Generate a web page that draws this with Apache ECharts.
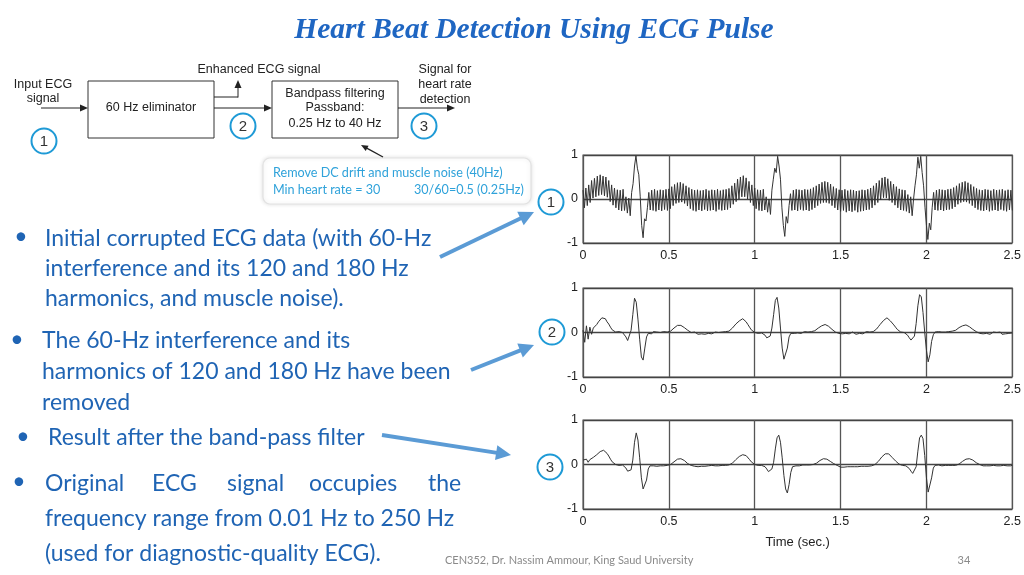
<!DOCTYPE html>
<html><head><meta charset="utf-8">
<script src="https://cdn.jsdelivr.net/npm/echarts@6/dist/echarts.min.js"></script>
<style>html,body{margin:0;padding:0;background:#fff}#c{width:1024px;height:575px}</style>
</head><body><div id="c"></div>
<script>
// ---------- data ----------
const timeMin = 0, timeMax = 2.5, timeInterval = 0.5;
const ampMin = -1, ampMax = 1, ampInterval = 1;

// Plot 1: corrupted ECG, samples every 1/120 s
const ecg1Step = 1 / 120;
const ecg1 = [
 0.20,-0.20,0.25,-0.15,0.32,-0.08,0.42,0.02,0.47,0.05,0.52,0.08,
 0.55,0.10,0.52,0.07,0.50,0.04,0.42,-0.06,0.32,-0.14,0.25,-0.20,
 0.21,-0.25,0.20,-0.27,0.22,-0.26,0.05,-0.32,0.02,-0.38,0.15,0.35,
 0.75,0.98,0.70,0.55,0.05,-0.60,-0.88,-0.45,-0.50,-0.20,0.15,-0.25,
 0.20,-0.26,0.22,-0.28,0.19,-0.25,0.21,-0.27,0.20,-0.24,0.22,-0.26,
 0.23,-0.22,0.28,-0.15,0.33,-0.10,0.37,-0.08,0.38,-0.07,0.35,-0.10,
 0.30,-0.16,0.26,-0.22,0.22,-0.26,0.20,-0.28,0.21,-0.25,0.19,-0.27,
 0.20,-0.24,0.22,-0.27,0.19,-0.26,0.21,-0.25,0.20,-0.28,0.22,-0.24,
 0.19,-0.26,0.21,-0.25,0.22,-0.24,0.24,-0.20,0.30,-0.12,0.36,-0.06,
 0.45,0.00,0.50,0.05,0.53,0.05,0.48,0.00,0.40,-0.08,0.32,-0.15,
 0.25,-0.22,0.21,-0.26,0.20,-0.27,0.22,-0.25,0.05,-0.30,0.00,-0.35,
 0.20,0.45,0.70,0.60,0.97,0.75,0.45,-0.20,-0.60,-0.85,-0.40,-0.55,
 -0.15,0.12,-0.26,0.20,-0.25,0.22,-0.27,0.21,-0.24,0.20,-0.26,0.22,
 -0.25,0.21,-0.27,0.23,-0.24,0.26,-0.20,0.30,-0.15,0.34,-0.10,0.38,
 -0.08,0.40,-0.08,0.38,-0.10,0.34,-0.15,0.28,-0.20,0.24,-0.25,0.21,
 -0.28,0.20,-0.26,0.22,-0.30,0.19,-0.27,0.21,-0.29,0.20,-0.26,0.18,
 -0.30,0.19,-0.28,0.21,-0.27,0.20,-0.25,0.22,-0.24,0.25,-0.20,0.30,
 -0.14,0.36,-0.08,0.42,-0.02,0.48,0.03,0.50,0.02,0.46,-0.03,0.40,
 -0.08,0.34,-0.14,0.28,-0.20,0.23,-0.25,0.21,-0.26,0.20,-0.28,0.10,
 -0.32,0.05,-0.38,0.00,0.30,0.55,0.95,0.70,0.97,0.60,0.30,-0.20,
 -0.60,-0.92,-0.55,-0.70,-0.20,0.15,-0.25,0.20,-0.26,0.22,-0.25,0.21,
 -0.27,0.20,-0.25,0.22,-0.24,0.23,-0.22,0.26,-0.18,0.30,-0.12,0.35,
 -0.08,0.38,-0.06,0.40,-0.07,0.37,-0.10,0.33,-0.15,0.28,-0.20,0.24,
 -0.24,0.21,-0.26,0.20,-0.27,0.22,-0.25,0.21,-0.28,0.19,-0.26,0.22,
 -0.25,0.20,-0.27,0.21,-0.24,0.22,-0.26,0.19,-0.28,0.21,-0.25,0.20,
 -0.26
];

// Plots 2 and 3: samples every 0.01 s
const ecg23Step = 0.01;
const ecg2 = [
 0.05,-0.22,0.15,-0.15,0.12,-0.04,0.10,0.13,0.18,0.24,
 0.27,0.33,0.29,0.31,0.24,0.19,0.12,0.06,0.02,0.01,
 -0.01,0.02,-0.02,0.00,-0.04,-0.10,-0.18,-0.15,0.05,0.40,
 0.77,0.68,0.30,-0.15,-0.55,-0.62,-0.35,-0.10,-0.02,0.01,
 -0.03,0.02,-0.02,0.01,-0.03,0.00,-0.02,0.02,-0.01,0.01,
 -0.02,0.03,0.06,0.10,0.12,0.16,0.14,0.16,0.13,0.11,
 0.08,0.05,0.02,0.00,-0.03,0.01,-0.02,-0.04,0.00,-0.03,
 -0.01,-0.04,0.00,-0.02,0.01,-0.03,-0.01,0.01,-0.02,0.00,
 -0.03,0.01,-0.01,0.02,0.00,0.03,0.06,0.10,0.14,0.19,
 0.22,0.26,0.29,0.31,0.28,0.24,0.18,0.12,0.06,0.02,
 0.00,0.02,-0.02,0.01,-0.01,-0.03,-0.06,-0.12,-0.14,-0.08,
 0.10,0.40,0.72,0.79,0.55,0.10,-0.35,-0.60,-0.63,-0.35,
 -0.10,-0.02,0.01,-0.02,0.02,-0.01,0.01,-0.02,0.00,0.02,
 -0.01,0.01,-0.02,0.02,0.01,0.04,0.07,0.10,0.13,0.15,
 0.16,0.18,0.15,0.14,0.10,0.07,0.04,0.01,0.00,-0.02,
 0.01,-0.03,0.00,-0.02,0.01,-0.03,-0.01,0.01,-0.02,-0.04,
 0.00,-0.02,0.01,-0.03,0.00,0.02,-0.01,0.01,0.03,0.02,
 0.05,0.08,0.13,0.18,0.22,0.27,0.31,0.33,0.30,0.26,
 0.22,0.17,0.12,0.07,0.03,0.01,-0.01,0.00,-0.03,-0.06,
 -0.12,-0.17,-0.19,-0.08,0.20,0.60,0.85,0.80,0.45,0.00,
 -0.40,-0.66,-0.50,-0.20,-0.05,0.01,-0.02,0.02,-0.01,0.01,
 -0.02,0.01,-0.01,0.02,0.00,0.03,0.02,0.05,0.08,0.11,
 0.13,0.15,0.14,0.17,0.16,0.13,0.11,0.07,0.04,0.02,
 0.00,-0.02,0.01,-0.03,0.00,-0.02,0.01,-0.04,-0.01,0.01,
 -0.03,0.00,-0.02,0.01,-0.04,-0.01,-0.03,0.00,-0.02,0.01,
 -0.01
];
const ecg3 = [
 0.10,0.06,0.12,0.05,0.11,0.13,0.16,0.19,0.22,0.26,
 0.29,0.31,0.32,0.30,0.25,0.19,0.12,0.06,0.02,0.00,
 -0.01,-0.02,-0.02,-0.01,-0.03,-0.08,-0.15,-0.18,-0.12,0.10,
 0.50,0.71,0.55,0.15,-0.30,-0.55,-0.58,-0.35,-0.10,-0.03,
 -0.02,-0.03,-0.02,-0.04,-0.02,-0.03,-0.02,-0.03,-0.01,-0.02,
 -0.01,0.00,0.02,0.06,0.10,0.12,0.13,0.13,0.12,0.09,
 0.05,0.02,0.00,-0.02,-0.03,-0.04,-0.03,-0.05,-0.03,-0.04,
 -0.02,-0.04,-0.05,-0.03,-0.04,-0.02,-0.04,-0.03,-0.05,-0.03,
 -0.04,-0.02,-0.03,-0.02,-0.03,-0.01,0.00,0.03,0.07,0.11,
 0.15,0.18,0.21,0.22,0.22,0.20,0.16,0.11,0.06,0.02,
 0.00,-0.01,-0.02,-0.01,-0.02,-0.03,-0.05,-0.10,-0.16,-0.17,
 -0.10,0.05,0.35,0.60,0.66,0.50,0.15,-0.25,-0.55,-0.64,
 -0.45,-0.18,-0.05,-0.02,-0.03,-0.02,-0.03,-0.02,-0.01,-0.02,
 -0.01,-0.02,-0.01,-0.01,0.00,0.01,0.03,0.06,0.09,0.11,
 0.13,0.13,0.12,0.10,0.07,0.04,0.02,0.00,-0.02,-0.04,
 -0.06,-0.07,-0.06,-0.07,-0.05,-0.06,-0.05,-0.06,-0.05,-0.04,
 -0.05,-0.03,-0.04,-0.03,-0.04,-0.03,-0.04,-0.02,-0.03,-0.01,
 0.00,0.03,0.07,0.12,0.17,0.21,0.24,0.26,0.24,0.20,
 0.16,0.12,0.08,0.04,0.01,-0.01,-0.02,-0.02,-0.03,-0.05,
 -0.09,-0.15,-0.20,-0.19,-0.05,0.30,0.60,0.66,0.58,0.20,
 -0.30,-0.62,-0.58,-0.30,-0.08,-0.02,-0.02,-0.01,-0.02,-0.03,
 -0.01,-0.02,-0.03,-0.02,-0.01,-0.02,-0.01,-0.02,0.00,0.01,
 0.04,0.07,0.10,0.12,0.13,0.13,0.12,0.10,0.07,0.04,
 0.02,0.00,-0.02,-0.03,-0.04,-0.03,-0.05,-0.03,-0.04,-0.02,
 -0.04,-0.03,-0.05,-0.03,-0.04,-0.02,-0.04,-0.03,-0.02,-0.03,
 -0.02
];

// Texts
const titleText = 'Heart Beat Detection Using ECG Pulse';
const bullet1 = ['Initial corrupted ECG data (with 60-Hz', 'interference and its 120 and 180 Hz', 'harmonics, and muscle noise).'];
const bullet2 = ['The 60-Hz interference and its', 'harmonics of 120 and 180 Hz have been', 'removed'];
const bullet3 = ['Result after the band-pass filter'];
const bullet4Line1 = ['Original', 'ECG', 'signal', 'occupies', 'the'];
const bullet4Rest = ['frequency range from 0.01 Hz to 250 Hz', '(used for diagnostic-quality ECG).'];
const footerText = 'CEN352, Dr. Nassim Ammour, King Saud University';
const pageNumber = '34';
const xAxisName = 'Time (sec.)';

// ---------- build ----------
const toPairs = (arr, step) => arr.map((v, i) => [+(i * step).toFixed(4), v]);

const BLUE = '#1F64B4';
const CYAN = '#2FA2DA';
const RING = '#1E9AD6';
const DIAG = '#222';
const bodyFont = (s) => s + 'px Lato, "Open Sans", sans-serif';
const diagFont = '12.5px "Liberation Sans", Arial, sans-serif';

const g = [];
function txt(x, y, text, font, fill, align, extra) {
  const o = { type: 'text', x: x, y: y, z: 10,
    style: Object.assign({ text: text, font: font, fill: fill,
      textAlign: align || 'left', textVerticalAlign: 'middle', align: align || 'left', verticalAlign: 'middle' }, extra || {}) };
  g.push(o); return o;
}
function seg(x1, y1, x2, y2, color, lw) {
  g.push({ type: 'line', z: 10, shape: { x1, y1, x2, y2 }, style: { stroke: color, lineWidth: lw } });
}
function arrow(x1, y1, x2, y2, color, lw, hl, hw) {
  const a = Math.atan2(y2 - y1, x2 - x1);
  const bx = x2 - hl * Math.cos(a), by = y2 - hl * Math.sin(a);
  const px = -Math.sin(a) * hw / 2, py = Math.cos(a) * hw / 2;
  seg(x1, y1, bx + Math.cos(a), by + Math.sin(a), color, lw);
  g.push({ type: 'polygon', z: 10, shape: { points: [[x2, y2], [bx + px, by + py], [bx - px, by - py]] }, style: { fill: color } });
}
function ring(cx, cy, label) {
  g.push({ type: 'circle', z: 10, shape: { cx, cy, r: 12.5 }, style: { fill: '#fff', stroke: RING, lineWidth: 2 } });
  txt(cx, cy + 1, label, '15px "Liberation Sans", Arial, sans-serif', '#333', 'center');
}
function box(x, y, w, h) {
  g.push({ type: 'rect', z: 10, shape: { x, y, width: w, height: h }, style: { fill: '#fff', stroke: '#333', lineWidth: 1 } });
}

// title
txt(534, 30, titleText, 'italic bold 29.5px "Liberation Serif", serif', '#1F66C2', 'center');

// block diagram
txt(43, 85, 'Input ECG', diagFont, DIAG, 'center');
txt(43, 99, 'signal', diagFont, DIAG, 'center');
arrow(41, 108, 88, 108, '#222', 1, 8, 7);
box(88, 81, 126, 57);
txt(151, 108, '60 Hz eliminator', diagFont, DIAG, 'center');
seg(214, 97, 238, 97, '#222', 1);
arrow(238, 97.5, 238, 80, '#222', 1, 8, 7);
txt(259, 70, 'Enhanced ECG signal', diagFont, DIAG, 'center');
arrow(214, 108, 272, 108, '#222', 1, 8, 7);
box(272, 81, 126, 57);
txt(335, 94, 'Bandpass filtering', diagFont, DIAG, 'center');
txt(335, 108, 'Passband:', diagFont, DIAG, 'center');
txt(335, 124, '0.25 Hz to 40 Hz', diagFont, DIAG, 'center');
arrow(398, 108, 455, 108, '#222', 1, 8, 7);
txt(445, 70, 'Signal for', diagFont, DIAG, 'center');
txt(445, 85, 'heart rate', diagFont, DIAG, 'center');
txt(445, 100, 'detection', diagFont, DIAG, 'center');
ring(44, 141, '1');
ring(243, 126, '2');
ring(424, 126, '3');
arrow(383, 157, 361, 145, '#222', 1.3, 7, 6);
g.push({ type: 'rect', z: 9, shape: { x: 263, y: 158, width: 268, height: 46, r: 7 }, style: { fill: '#fff', stroke: '#e2e2e2', lineWidth: 1.2, shadowBlur: 4, shadowColor: 'rgba(0,0,0,0.12)' } });
txt(273, 173, 'Remove DC drift and muscle noise (40Hz)', bodyFont(12.6), CYAN, 'left');
txt(273, 190, 'Min heart rate = 30', bodyFont(12.6), CYAN, 'left');
txt(414, 190, '30/60=0.5 (0.25Hz)', bodyFont(12.6), CYAN, 'left');

// bullets
const BF = bodyFont(23);
txt(21, 237, '•', BF, BLUE, 'center');
bullet1.forEach((s, i) => txt(45, 239 + i * 30, s, BF, BLUE, 'left'));
txt(17, 340, '•', BF, BLUE, 'center');
bullet2.forEach((s, i) => txt(42, 341 + i * 31, s, BF, BLUE, 'left'));
txt(23, 437, '•', BF, BLUE, 'center');
bullet3.forEach((s, i) => txt(48, 438, s, BF, BLUE, 'left'));
txt(19, 482, '•', BF, BLUE, 'center');
const w4x = [45, 152, 227, 309, 428];
bullet4Line1.forEach((s, i) => txt(w4x[i], 484, s, BF, BLUE, 'left'));
bullet4Rest.forEach((s, i) => txt(45, 519 + i * 35, s, BF, BLUE, 'left'));

// blue pointer arrows
arrow(440, 257, 534, 212, '#5B9BD5', 4, 15, 15);
arrow(471, 370, 534, 345, '#5B9BD5', 4, 15, 15);
arrow(382, 435, 511, 455, '#5B9BD5', 4, 15, 15);

// plot rings
ring(551, 202, '1');
ring(552, 332, '2');
ring(550, 467, '3');

// footer
txt(445, 560, footerText, bodyFont(11), '#8a8a8a', 'left');
txt(964, 560, pageNumber, bodyFont(11), '#8a8a8a', 'center');

// ---------- charts ----------
const grids = [
  { left: 583, top: 155, width: 430, height: 88 },
  { left: 583, top: 288, width: 430, height: 89 },
  { left: 583, top: 420, width: 430, height: 89 }
].map(r => Object.assign({ show: true, borderColor: '#666', borderWidth: 1.2, backgroundColor: 'transparent', containLabel: false }, r));

const lblStyle = { color: '#222', fontSize: 12.5, fontFamily: '"Liberation Sans", Arial, sans-serif' };
const xAxes = [0, 1, 2].map(i => ({
  gridIndex: i, type: 'value', min: timeMin, max: timeMax, interval: timeInterval,
  axisLine: { show: false }, axisTick: { show: false },
  splitLine: { show: true, lineStyle: { color: '#555', width: 1.3 } },
  axisLabel: Object.assign({ margin: 6 }, lblStyle),
  name: i === 2 ? xAxisName : '', nameLocation: 'middle', nameGap: 27,
  nameTextStyle: Object.assign({}, lblStyle, { fontSize: 13 })
}));
const yAxes = [0, 1, 2].map(i => ({
  gridIndex: i, type: 'value', min: ampMin, max: ampMax, interval: ampInterval,
  axisLine: { show: false }, axisTick: { show: false },
  splitLine: { show: true, lineStyle: { color: '#444', width: 1.3 } },
  axisLabel: Object.assign({ margin: 5 }, lblStyle)
}));
const mk = (i, data) => ({
  type: 'line', xAxisIndex: i, yAxisIndex: i, data: data, showSymbol: false, symbol: 'none',
  lineStyle: { color: '#333', width: 1 }, silent: true, animation: false, z: 3
});

const chart = echarts.init(document.getElementById('c'), null, { renderer: 'canvas' });
chart.setOption({
  backgroundColor: '#fff',
  animation: false,
  grid: grids,
  xAxis: xAxes,
  yAxis: yAxes,
  series: [mk(0, toPairs(ecg1, ecg1Step)), mk(1, toPairs(ecg2, ecg23Step)), mk(2, toPairs(ecg3, ecg23Step))],
  graphic: { elements: g }
});
</script></body></html>
